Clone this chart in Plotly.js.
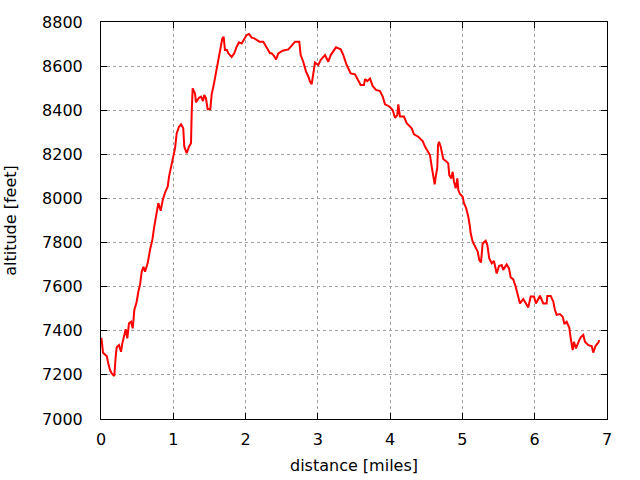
<!DOCTYPE html>
<html><head><meta charset="utf-8">
<script src="https://cdn.plot.ly/plotly-3.0.1.min.js"></script>
<style>html,body{margin:0;padding:0;background:#fff}</style>
</head><body>
<div id="chart" style="width:640px;height:480px"></div>
<script>
const distance = [0.000,0.006,0.028,0.055,0.080,0.101,0.125,0.148,0.170,0.184,0.203,0.217,0.249,0.277,0.295,0.322,0.342,0.364,0.387,0.415,0.439,0.461,0.494,0.516,0.540,0.563,0.586,0.609,0.646,0.678,0.710,0.737,0.757,0.793,0.826,0.854,0.885,0.923,0.941,0.968,1.000,1.024,1.047,1.079,1.107,1.138,1.152,1.185,1.217,1.245,1.255,1.268,1.300,1.314,1.356,1.383,1.411,1.429,1.452,1.476,1.512,1.531,1.559,1.587,1.614,1.636,1.656,1.678,1.697,1.715,1.743,1.761,1.808,1.844,1.877,1.909,1.946,1.982,2.015,2.047,2.085,2.121,2.154,2.190,2.245,2.282,2.314,2.338,2.361,2.393,2.421,2.453,2.513,2.591,2.638,2.684,2.743,2.762,2.798,2.836,2.868,2.891,2.915,2.937,2.960,3.006,3.039,3.099,3.144,3.178,3.251,3.316,3.352,3.399,3.454,3.514,3.559,3.592,3.638,3.652,3.684,3.721,3.758,3.804,3.859,3.897,3.929,3.988,4.035,4.067,4.099,4.113,4.136,4.191,4.229,4.298,4.330,4.389,4.450,4.482,4.528,4.551,4.575,4.597,4.616,4.634,4.652,4.662,4.676,4.699,4.713,4.735,4.782,4.804,4.818,4.846,4.865,4.883,4.907,4.929,4.943,4.966,5.003,5.021,5.049,5.081,5.104,5.114,5.142,5.174,5.211,5.233,5.257,5.280,5.322,5.344,5.371,5.405,5.436,5.474,5.506,5.543,5.565,5.612,5.644,5.667,5.703,5.737,5.759,5.796,5.842,5.889,5.911,5.944,5.990,6.017,6.073,6.118,6.165,6.174,6.221,6.257,6.280,6.304,6.349,6.387,6.411,6.442,6.478,6.498,6.525,6.543,6.571,6.612,6.636,6.672,6.695,6.741,6.788,6.810,6.843,6.879,6.893];
const altitude = [7340,7368,7300,7290,7285,7252,7222,7207,7200,7195,7282,7325,7335,7305,7343,7381,7407,7366,7434,7441,7411,7494,7532,7577,7608,7668,7690,7668,7707,7766,7812,7872,7916,7979,7944,7993,8025,8054,8099,8137,8182,8227,8295,8325,8336,8318,8235,8205,8235,8250,8393,8499,8476,8436,8457,8462,8442,8469,8454,8404,8404,8472,8514,8563,8613,8653,8698,8725,8733,8673,8673,8658,8642,8658,8688,8708,8703,8723,8741,8746,8729,8726,8718,8711,8711,8688,8673,8658,8658,8647,8630,8658,8670,8676,8693,8711,8711,8650,8620,8575,8553,8530,8518,8567,8616,8605,8628,8650,8620,8650,8685,8676,8650,8605,8567,8563,8537,8514,8514,8541,8532,8544,8510,8492,8487,8462,8427,8417,8401,8366,8378,8427,8371,8371,8341,8318,8291,8280,8260,8235,8209,8197,8144,8091,8064,8106,8137,8242,8257,8235,8205,8179,8167,8159,8106,8091,8121,8076,8046,8091,8038,8020,8008,7978,7959,7917,7872,7842,7804,7781,7759,7721,7710,7796,7808,7789,7728,7706,7716,7660,7694,7698,7676,7701,7683,7643,7633,7600,7570,7524,7544,7517,7506,7555,7555,7524,7559,7524,7524,7558,7558,7532,7494,7472,7476,7464,7431,7441,7415,7366,7313,7350,7320,7354,7370,7381,7350,7335,7331,7301,7332,7346,7358];
const xTicks = [0,1,2,3,4,5,6,7];
const yTicks = [7000,7200,7400,7600,7800,8000,8200,8400,8600,8800];

const textFont = {family: 'DejaVu Sans, sans-serif', size: 16, color: '#000'};
const axisCommon = {
  showline: true, linecolor: '#000', linewidth: 1, mirror: 'ticks',
  ticks: 'inside', ticklen: 6, tickcolor: '#000', tickwidth: 1,
  showgrid: true, gridcolor: '#a0a0a0', griddash: 'dot', gridwidth: 1,
  zeroline: false, tickfont: textFont, automargin: false
};
Plotly.newPlot('chart', [{
  x: distance, y: altitude, type: 'scatter', mode: 'lines',
  line: {color: '#ff0000', width: 2}, hoverinfo: 'skip'
}], {
  width: 640, height: 480,
  margin: {l: 101, r: 33, t: 22, b: 61},
  paper_bgcolor: '#fff', plot_bgcolor: '#fff',
  showlegend: false,
  xaxis: Object.assign({}, axisCommon, {
    range: [0, 7], tickvals: xTicks, ticktext: xTicks.map(String), ticklabelstandoff: 6,
    title: {text: 'distance [miles]', font: textFont, standoff: 11}
  }),
  yaxis: Object.assign({}, axisCommon, {
    range: [7000, 8800], tickvals: yTicks, ticktext: yTicks.map(String), ticklabelstandoff: 14,
    title: {text: 'altitude [feet]', font: textFont, standoff: 21}
  })
}, {staticPlot: true});
</script>
</body></html>
